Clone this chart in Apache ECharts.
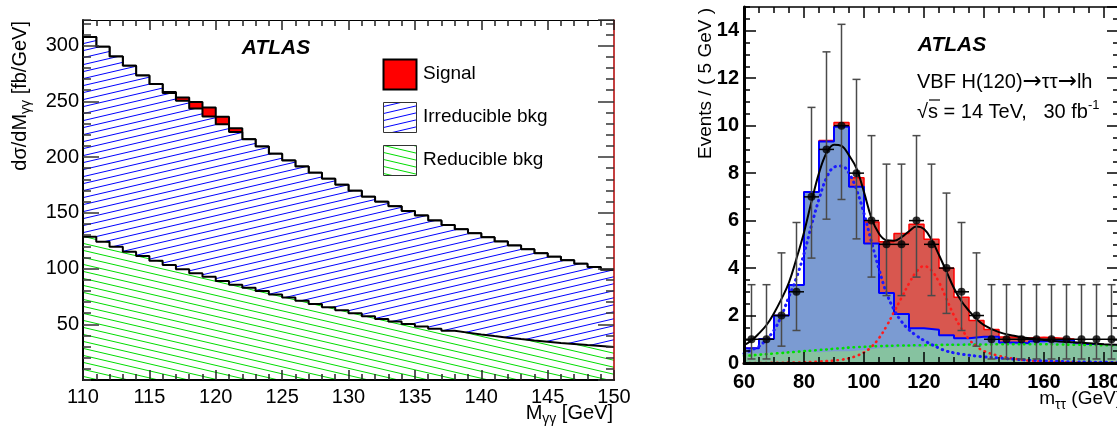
<!DOCTYPE html>
<html><head><meta charset="utf-8">
<script src="https://cdn.jsdelivr.net/npm/echarts@6/dist/echarts.min.js"></script>
<style>html,body{margin:0;padding:0;background:#fff;overflow:hidden}#c{width:1117px;height:428px}</style>
</head><body><div id="c"></div>
<script>
// ---------- Left panel: M_gammagamma spectrum (1 GeV bins) ----------
const leftEdges = [110,111,112,113,114,115,116,117,118,119,120,121,122,123,124,125,126,127,128,129,130,
                   131,132,133,134,135,136,137,138,139,140,141,142,143,144,145,146,147,148,149,150];
const reducibleBkg = [128.6,124.1,119.6,115.1,111.2,107.0,103.1,99.3,95.7,92.6,88.8,85.5,82.8,79.8,76.8,74.1,71.1,68.1,
                      65.2,62.5,59.8,57.2,54.8,52.4,50.2,48.0,46.0,44.2,42.5,40.9,39.4,38.0,36.7,35.5,34.4,33.3,32.3,31.3,30.4,29.5];
const irreducibleBkg = [179.1,174.9,170.7,166.8,162.0,158.5,154.4,151.2,147.8,143.9,140.7,137.0,133.3,129.6,126.1,122.8,120.4,117.9,
                        115.3,112.7,110.0,107.3,105.2,103.4,101.5,99.6,97.2,94.9,92.7,90.7,88.6,86.3,84.0,81.7,79.4,77.3,75.2,73.1,71.0,69.5];
const signalGG = [0,0,0,0,0,0,1.0,3.0,6.0,8.0,6.8,3.3,0,0,0,0,0,0,0,0,0,0,0,0,0,0,0,0,0,0,0,0,0,0,0,0,0,0,0,0];
const leftLegend = ['Signal','Irreducible bkg','Reducible bkg'];

// ---------- Right panel: m_tautau (5 GeV bins) ----------
const mttEdges = [60,65,70,75,80,85,90,95,100,105,110,115,120,125,130,135,140,145,150,155,160,165,170,175,180,185];
const otherBkg = [0.40,0.45,0.45,0.50,0.45,0.50,0.50,0.55,0.62,0.65,0.70,0.65,0.75,0.72,0.75,0.78,0.80,0.76,0.78,0.80,0.78,0.80,0.76,0.76,0.75];
const zTauTau  = [0.22,0.56,1.55,2.79,6.75,8.83,9.45,6.88,4.42,2.30,1.36,0.81,0.65,0.45,0.29,0.33,0.31,0.10,0.05,0.12,0.19,0.17,0.03,0.01,0.01];
const signalTT = [0,0,0,0,0.02,0.05,0.18,0.38,0.90,2.16,3.40,4.39,3.81,2.82,1.73,0.68,0.30,0.24,0.22,0.17,0.08,0.04,0.02,0.01,0];
const dataX  = [62.5,67.5,72.5,77.5,82.5,87.5,92.5,97.5,102.5,107.5,112.5,117.5,122.5,127.5,132.5,137.5,142.5,147.5,152.5,157.5,162.5,167.5,172.5,177.5,182.5];
const dataY  = [1,1,2,3,7,9,10,8,6,5,5,6,5,4,3,2,1,1,1,1,1,1,1,1,1];
const dataLo = [0.17,0.17,0.71,1.37,4.42,6.06,6.89,5.23,3.62,2.84,2.84,3.62,2.84,2.09,1.37,0.71,0.17,0.17,0.17,0.17,0.17,0.17,0.17,0.17,0.17];
const dataHi = [3.30,3.30,4.64,5.92,10.77,13.11,14.27,11.95,9.58,8.38,8.38,9.58,8.38,7.16,5.92,4.64,3.30,3.30,3.30,3.30,3.30,3.30,3.30,3.30,3.30];
const fitX     = [60,62.5,65,67.5,70,72.5,75,77.5,80,82.5,85,87.5,90,92.5,95,97.5,100,102.5,105,107.5,110,112.5,115,117.5,120,122.5,125,127.5,130,132.5,135,137.5,140,145,150,155,160,165,170,175,180,185];
const fitTotal = [0.75,0.95,1.25,1.6,2.1,2.7,3.4,4.4,5.5,6.8,8.0,8.85,9.2,9.15,8.75,8.2,7.2,6.1,5.45,5.17,5.15,5.3,5.55,5.75,5.65,5.2,4.55,3.85,3.15,2.6,2.2,1.85,1.6,1.3,1.15,1.04,0.97,0.91,0.87,0.83,0.79,0.76];
const fitZ     = [0.4,0.55,0.7,1.0,1.38,2.0,2.8,3.6,4.6,5.8,6.9,7.8,8.25,8.3,8.0,7.3,6.3,5.1,3.95,2.95,2.25,1.75,1.4,1.15,0.95,0.78,0.63,0.5,0.43,0.37,0.33,0.29,0.26,0.21,0.16,0.12,0.09,0.07,0.05,0.04,0.03,0.02];
const fitSig   = [0,0,0,0,0.01,0.01,0.02,0.02,0.03,0.04,0.06,0.08,0.1,0.14,0.2,0.3,0.45,0.68,1.05,1.55,2.15,2.75,3.35,3.85,4.08,3.9,3.4,2.7,2.0,1.45,1.0,0.7,0.5,0.3,0.18,0.1,0.06,0.04,0.02,0.01,0.01,0];
const fitBkg   = [0.3,0.32,0.35,0.37,0.4,0.42,0.45,0.47,0.5,0.52,0.55,0.57,0.6,0.62,0.65,0.67,0.68,0.7,0.71,0.72,0.73,0.74,0.74,0.75,0.75,0.76,0.76,0.77,0.77,0.77,0.78,0.78,0.78,0.79,0.79,0.79,0.79,0.78,0.77,0.76,0.75,0.74];

// ---------- helpers ----------
const FONT = '"Liberation Sans", Arial, Helvetica, sans-serif';
function addArr(){ const arrs = Array.from(arguments); return arrs[0].map((_,i)=>arrs.reduce((s,a)=>s+a[i],0)); }
function stepData(edges, vals){ const d = vals.map((v,i)=>[edges[i], v]); d.push([edges[vals.length], vals[vals.length-1]]); return d; }
function pair(xs, ys){ return xs.map((x,i)=>[x, ys[i]]); }
function hatch(color, up){
  const W = 30, H = 7, c = document.createElement('canvas');
  c.width = W; c.height = H;
  const g = c.getContext('2d'); g.fillStyle = '#fff'; g.fillRect(0,0,W,H);
  g.strokeStyle = color; g.lineWidth = 1;
  for (let k=-1;k<=1;k++){ g.beginPath();
    if (up){ g.moveTo(0, H + k*H); g.lineTo(W, k*H); } else { g.moveTo(0, k*H); g.lineTo(W, H + k*H); }
    g.stroke(); }
  return {image: c, repeat: 'repeat'};
}
const blueHatch = hatch('#0000ff', true), greenHatch = hatch('#00dd00', false);

function axisX(grid, pos, min, max, interval, opt){
  return Object.assign({type:'value', gridIndex:grid, position:pos, min, max, interval, z:10,
    axisLine:{show:false, onZero:false}, splitLine:{show:false}, axisLabel:{show:false},
    axisTick:{show:true, inside:true, length:6, lineStyle:{color:'#000', width:1.5}}}, opt||{});
}
function axisY(grid, pos, min, max, interval, opt){
  return Object.assign({type:'value', gridIndex:grid, position:pos, min, max, interval, z:10,
    axisLine:{show:false, onZero:false}, splitLine:{show:false}, axisLabel:{show:false},
    axisTick:{show:true, inside:true, length:6, lineStyle:{color:'#000', width:1.5}}}, opt||{});
}
const lblL = {show:true, color:'#000', fontSize:20, fontFamily:FONT};
const lblR = {show:true, color:'#000', fontSize:20, fontWeight:'bold', fontFamily:FONT};

const xAxes = [
  axisX(0,'bottom',110,150,5,{axisLine:{show:true,onZero:false,lineStyle:{color:'#000',width:2}}, axisTick:{inside:true,length:10,lineStyle:{color:'#222',width:1.5}}, axisLabel:Object.assign({margin:7},lblL)}),
  axisX(0,'top',110,150,5,{axisLine:{show:true,onZero:false,lineStyle:{color:'#000',width:1}}, axisTick:{inside:true,length:10,lineStyle:{color:'#222',width:1.5}}}),
  axisX(0,'bottom',110,150,1,{axisTick:{inside:true,length:6,lineStyle:{color:'#222',width:1.5}}}),
  axisX(0,'top',110,150,1,{axisTick:{inside:true,length:6,lineStyle:{color:'#222',width:1.5}}}),
  axisX(1,'bottom',60,185,20,{axisLine:{show:true,onZero:false,lineStyle:{color:'#000',width:3}}, axisTick:{inside:true,length:11,lineStyle:{color:'#000',width:1.5}}, axisLabel:Object.assign({margin:9,showMaxLabel:false},lblR)}),
  axisX(1,'top',60,185,20,{axisLine:{show:true,onZero:false,lineStyle:{color:'#000',width:1.5}}, axisTick:{inside:true,length:11,lineStyle:{color:'#000',width:1.5}}}),
  axisX(1,'bottom',60,185,5,{axisTick:{inside:true,length:6,lineStyle:{color:'#000',width:1.5}}}),
  axisX(1,'top',60,185,5,{axisTick:{inside:true,length:6,lineStyle:{color:'#000',width:1.5}}})
];
const yAxes = [
  axisY(0,'left',0,323,50,{axisLine:{show:true,onZero:false,lineStyle:{color:'#000',width:2}}, axisTick:{inside:true,length:16,lineStyle:{color:'#333',width:1.5}}, axisLabel:Object.assign({margin:4,showMinLabel:false,showMaxLabel:false},lblL)}),
  axisY(0,'right',0,323,50,{axisLine:{show:true,onZero:false,lineStyle:{color:'#b00000',width:1.5}}, axisTick:{inside:true,length:16,lineStyle:{color:'#333',width:1.5}}}),
  axisY(0,'left',0,323,10,{axisTick:{inside:true,length:8,lineStyle:{color:'#333',width:1.5}}}),
  axisY(0,'right',0,323,10,{axisTick:{inside:true,length:8,lineStyle:{color:'#333',width:1.5}}}),
  axisY(1,'left',0,15,2,{axisLine:{show:true,onZero:false,lineStyle:{color:'#000',width:3}}, axisTick:{inside:true,length:12,lineStyle:{color:'#000',width:1.5}}, axisLabel:Object.assign({margin:5,showMaxLabel:false},lblR)}),
  axisY(1,'right',0,15,2,{axisLine:{show:true,onZero:false,lineStyle:{color:'#000',width:1.5}}, axisTick:{inside:true,length:12,lineStyle:{color:'#000',width:1.5}}}),
  axisY(1,'left',0,15,0.5,{axisTick:{inside:true,length:6,lineStyle:{color:'#000',width:1.5}}}),
  axisY(1,'right',0,15,0.5,{axisTick:{inside:true,length:6,lineStyle:{color:'#000',width:1.5}}})
];

// histogram drawn as a filled step outline from 0 up to the (cumulative) stack top
function histSeries(name, edges, vals, grid, area, line, z){
  return {name, type:'line', xAxisIndex: grid===0?0:4, yAxisIndex: grid===0?0:4, step:'end',
    data: stepData(edges, vals), showSymbol:false, symbol:'none', z, silent:true, animation:false,
    areaStyle: Object.assign({origin:'start'}, area), lineStyle: line};
}
function curve(name, ys, color, width, type, z){
  return {name, type:'line', xAxisIndex:4, yAxisIndex:4, data: pair(fitX, ys), smooth:0.4, showSymbol:false, symbol:'none',
    z, silent:true, animation:false, lineStyle:{color, width, type, cap:'round'}};
}

// stack tops (each level drawn from the axis; higher levels drawn underneath)
const lStack1 = reducibleBkg, lStack2 = addArr(reducibleBkg, irreducibleBkg), lStack3 = addArr(reducibleBkg, irreducibleBkg, signalGG);
const rStack1 = otherBkg, rStack2 = addArr(otherBkg, zTauTau), rStack3 = addArr(otherBkg, zTauTau, signalTT);

const errData = dataX.map((x,i)=>[x, dataY[i], dataLo[i], dataHi[i], mttEdges[i], mttEdges[i+1]]);

const series = [
  histSeries('Signal', leftEdges, lStack3, 0, {color:'#ff0000', opacity:1}, {color:'#000', width:2}, 1),
  histSeries('Irreducible bkg', leftEdges, lStack2, 0, {color:blueHatch, opacity:1}, {color:'#000', width:2}, 2),
  histSeries('Reducible bkg', leftEdges, lStack1, 0, {color:greenHatch, opacity:1}, {color:'#000', width:2}, 3),

  histSeries('signal', mttEdges, rStack3, 1, {color:'#d8574f', opacity:1}, {color:'#ff0000', width:1.5}, 1),
  histSeries('Ztautau', mttEdges, rStack2, 1, {color:'#7b9bd2', opacity:1}, {color:'#0000ff', width:2}, 2),
  histSeries('other', mttEdges, rStack1, 1, {color:'#86c2a0', opacity:1}, {width:0, opacity:0}, 3),

  curve('fitBkg', fitBkg, '#00e000', 2.6, [0.5,5], 4),
  curve('fitSig', fitSig, '#ff1a1a', 2.6, [0.5,5], 4),
  curve('fitZ', fitZ, '#1a1aff', 3, [0.5,5], 4),
  curve('fitTotal', fitTotal, '#000', 2, 'solid', 5),

  {type:'custom', xAxisIndex:4, yAxisIndex:4, z:6, silent:true, animation:false, data: errData,
   encode:{x:0, y:1},
   renderItem:function(params, api){
     const x=api.value(0), y=api.value(1), lo=api.value(2), hi=api.value(3), xl=api.value(4), xr=api.value(5);
     const pLo=api.coord([x,lo]), pHi=api.coord([x,hi]), pL=api.coord([xl,y]), pR=api.coord([xr,y]);
     const cap=4, st={stroke:'#4a4a4a', lineWidth:1.5};
     return {type:'group', children:[
       {type:'line', shape:{x1:pLo[0],y1:pLo[1],x2:pHi[0],y2:pHi[1]}, style:st},
       {type:'line', shape:{x1:pLo[0]-cap,y1:pLo[1],x2:pLo[0]+cap,y2:pLo[1]}, style:st},
       {type:'line', shape:{x1:pHi[0]-cap,y1:pHi[1],x2:pHi[0]+cap,y2:pHi[1]}, style:st},
       {type:'line', shape:{x1:pL[0],y1:pL[1],x2:pR[0],y2:pR[1]}, style:{stroke:'#000', lineWidth:1.5}}
     ]};
   }},
  {type:'scatter', xAxisIndex:4, yAxisIndex:4, z:7, silent:true, animation:false, data: pair(dataX, dataY),
   symbol:'circle', symbolSize:8, itemStyle:{color:'#000'}}
];

function txt(x, y, text, opt){
  const st = Object.assign({text, x:0, y:0, fill:'#000', fontFamily:FONT, fontSize:20, align:'left', verticalAlign:'middle'}, opt && opt.style || {});
  st.textAlign = st.align; st.textVerticalAlign = st.verticalAlign;
  return Object.assign({type:'text', x, y, z:100, silent:true, style: st}, opt && opt.el || {});
}
const nTok = (fs)=>({fontSize:fs, fontFamily:FONT, fill:'#000', color:'#000', lineHeight:26});
const subTok = (fs)=>({fontSize:fs, fontFamily:FONT, fill:'#000', color:'#000', lineHeight:fs, verticalAlign:'bottom'});
const supTok = (fs)=>({fontSize:fs, fontFamily:FONT, fill:'#000', color:'#000', lineHeight:fs, verticalAlign:'top'});
const arrTok = {fontSize:23, fontFamily:'"DejaVu Sans", sans-serif', fill:'#000', color:'#000', lineHeight:26};

const graphic = [
  txt(276, 48, 'ATLAS', {style:{fontSize:21, fontWeight:'bold', fontStyle:'italic', align:'center'}}),
  {type:'rect', z:100, silent:true, shape:{x:383.5, y:59.5, width:33, height:30}, style:{fill:'#ff0000', stroke:'#000', lineWidth:2}},
  {type:'rect', z:100, silent:true, shape:{x:383.5, y:102.5, width:33, height:30}, style:{fill:blueHatch, stroke:'#333', lineWidth:1}},
  {type:'rect', z:100, silent:true, shape:{x:383.5, y:145.5, width:33, height:30}, style:{fill:greenHatch, stroke:'#333', lineWidth:1}},
  txt(423, 74, leftLegend[0], {style:{fontSize:19}}),
  txt(423, 117, leftLegend[1], {style:{fontSize:19}}),
  txt(423, 160, leftLegend[2], {style:{fontSize:19}}),
  txt(613, 413, '{n|M}{s|γγ}{n| [GeV]}', {style:{align:'right', rich:{n:nTok(20), s:subTok(14)}}}),
  txt(20, 21, '{n|dσ/dM}{s|γγ}{n| [fb/GeV]}', {style:{align:'right', rich:{n:nTok(20), s:subTok(14)}}, el:{rotation:Math.PI/2}}),
  txt(952, 45, 'ATLAS', {style:{fontSize:21, fontWeight:'bold', fontStyle:'italic', align:'center'}}),
  txt(917, 82, '{n|VBF H(120)}{a|→}{n|ττ}{a|→}{n|lh}', {style:{rich:{n:nTok(20), a:arrTok}}}),
  txt(917, 112, '{n|√s = 14 TeV,   30 fb}{p|-1}', {style:{rich:{n:nTok(20), p:supTok(13)}}}),
  {type:'line', z:100, silent:true, shape:{x1:929, y1:100, x2:940, y2:100}, style:{stroke:'#000', lineWidth:1.2}},
  txt(706, 8, 'Events / ( 5 GeV )', {style:{fontSize:19, align:'right'}, el:{rotation:Math.PI/2}}),
  txt(1122, 399, '{n|m}{s|ττ}{n| (GeV)}', {style:{align:'right', rich:{n:nTok(19), s:subTok(14)}}})
];

const chart = echarts.init(document.getElementById('c'), null, {renderer:'canvas'});
chart.setOption({
  animation:false,
  backgroundColor:'#fff',
  grid:[
    {left:83, top:20, width:531, height:360, containLabel:false, outerBoundsMode:'none'},
    {left:744, top:7, width:375, height:356, containLabel:false, outerBoundsMode:'none'}
  ],
  xAxis: xAxes,
  yAxis: yAxes,
  series,
  graphic
});
</script></body></html>
